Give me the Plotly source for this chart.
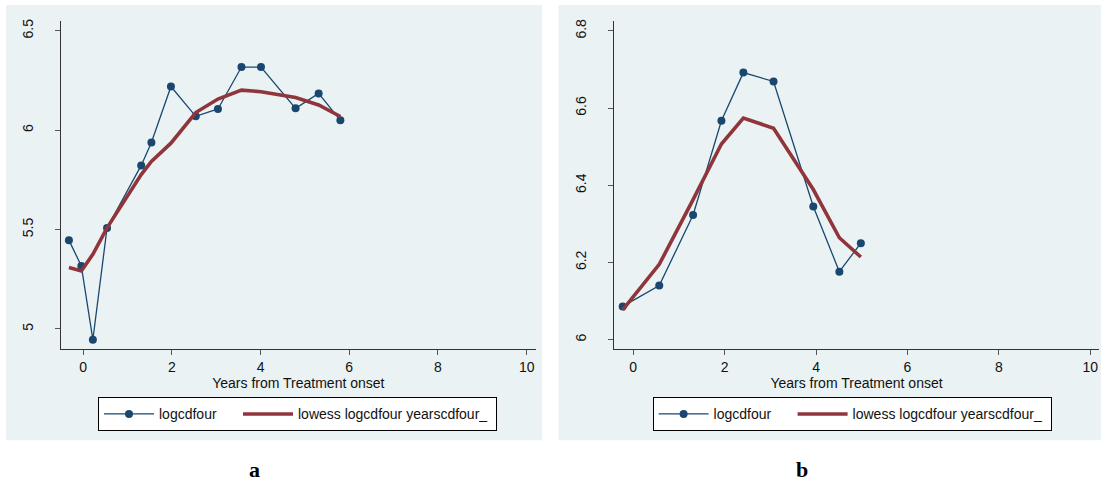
import plotly.graph_objects as go

# ---- data ----
years_a = [-0.32, -0.04, 0.22, 0.54, 1.31, 1.54, 1.98, 2.54, 3.04, 3.57, 4.01, 4.79, 5.31, 5.80]
logcd_a = [5.447, 5.317, 4.946, 5.508, 5.823, 5.938, 6.220, 6.070, 6.107, 6.318, 6.318, 6.110, 6.185, 6.050]
lowess_a = [5.309, 5.292, 5.376, 5.509, 5.777, 5.843, 5.935, 6.089, 6.157, 6.202, 6.194, 6.165, 6.127, 6.069]

years_b = [-0.23, 0.57, 1.31, 1.93, 2.41, 3.07, 3.94, 4.51, 4.98]
logcd_b = [6.086, 6.140, 6.323, 6.567, 6.692, 6.669, 6.345, 6.176, 6.250]
lowess_b = [6.077, 6.195, 6.363, 6.507, 6.574, 6.548, 6.389, 6.264, 6.214]

series_names = ["logcdfour", "lowess logcdfour yearscdfour_"]
panel_labels = ["a", "b"]
x_title = "Years from Treatment onset"

W, H = 1101, 482
NAVY = "#1a476f"
MAROON = "#90353b"
BG = "#eaf2f3"
FONT = "Liberation Sans, Arial, sans-serif"

def px(v):
    return v / W

def py(v):
    return 1 - v / H

fig = go.Figure()

panels = [
    dict(x=years_a, y=logcd_a, lw=lowess_a, xa="x", ya="y", leg="legend"),
    dict(x=years_b, y=logcd_b, lw=lowess_b, xa="x2", ya="y2", leg="legend2"),
]
for p in panels:
    fig.add_trace(go.Scatter(
        x=p["x"], y=p["y"], mode="lines+markers", name=series_names[0],
        line=dict(color=NAVY, width=1.3), marker=dict(color=NAVY, size=8),
        xaxis=p["xa"], yaxis=p["ya"], legend=p["leg"], legendwidth=74,
    ))
    fig.add_trace(go.Scatter(
        x=p["x"], y=p["lw"], mode="lines", name=series_names[1],
        line=dict(color=MAROON, width=3.6),
        xaxis=p["xa"], yaxis=p["ya"], legend=p["leg"], legendwidth=193,
    ))

axis_common = dict(
    showline=True, linecolor="#333333", linewidth=1,
    ticks="outside", ticklen=5, tickcolor="#555555", tickwidth=1,
    tickfont=dict(family=FONT, size=14, color="#111111"),
    zeroline=False, fixedrange=True,
)
xaxis_common = dict(axis_common, showgrid=False, tick0=0, dtick=2,
                    title=dict(text=x_title, font=dict(family=FONT, size=14, color="#111111"), standoff=2))
yaxis_common = dict(axis_common, showgrid=True, gridcolor=BG, gridwidth=1, tickangle=-90,
                    ticklabelstandoff=16)

fig.update_layout(
    width=W, height=H,
    margin=dict(l=0, r=0, t=0, b=0),
    paper_bgcolor="white", plot_bgcolor="white",
    showlegend=True,
    xaxis=dict(xaxis_common, domain=[px(60.7), px(536)], range=[-0.505, 10.21], anchor="y"),
    yaxis=dict(yaxis_common, domain=[py(348.3), py(19)], range=[4.90, 6.55], tick0=5, dtick=0.5, anchor="x"),
    xaxis2=dict(xaxis_common, domain=[px(614), px(1099)], range=[-0.42, 10.19], anchor="y2"),
    yaxis2=dict(yaxis_common, domain=[py(348.3), py(19)], range=[5.976, 6.826], tick0=6, dtick=0.2, anchor="x2"),
    legend=dict(x=px(98), y=py(397), xanchor="left", yanchor="top", orientation="h",
                bordercolor="black", borderwidth=1, bgcolor="white", itemwidth=50,
                font=dict(family=FONT, size=14, color="#111111")),
    legend2=dict(x=px(652.6), y=py(397), xanchor="left", yanchor="top", orientation="h",
                 bordercolor="black", borderwidth=1, bgcolor="white", itemwidth=50,
                 font=dict(family=FONT, size=14, color="#111111")),
    shapes=[
        dict(type="rect", xref="paper", yref="paper", x0=px(6), x1=px(542), y0=py(440), y1=py(3),
             fillcolor=BG, line=dict(width=0), layer="below"),
        dict(type="rect", xref="paper", yref="paper", x0=px(558.4), x1=1, y0=py(440), y1=py(3),
             fillcolor=BG, line=dict(width=0), layer="below"),
    ],
    annotations=[
        dict(text="<b>%s</b>" % panel_labels[0], x=px(254), y=py(469), xref="paper", yref="paper",
             showarrow=False, xanchor="center", yanchor="middle",
             font=dict(family="Liberation Serif, Times New Roman, serif", size=22, color="black")),
        dict(text="<b>%s</b>" % panel_labels[1], x=px(801.5), y=py(469), xref="paper", yref="paper",
             showarrow=False, xanchor="center", yanchor="middle",
             font=dict(family="Liberation Serif, Times New Roman, serif", size=22, color="black")),
    ],
)

fig.write_html("out.html", config={"displayModeBar": False},
               post_script="document.body.style.margin='0';document.body.style.overflow='hidden';")
